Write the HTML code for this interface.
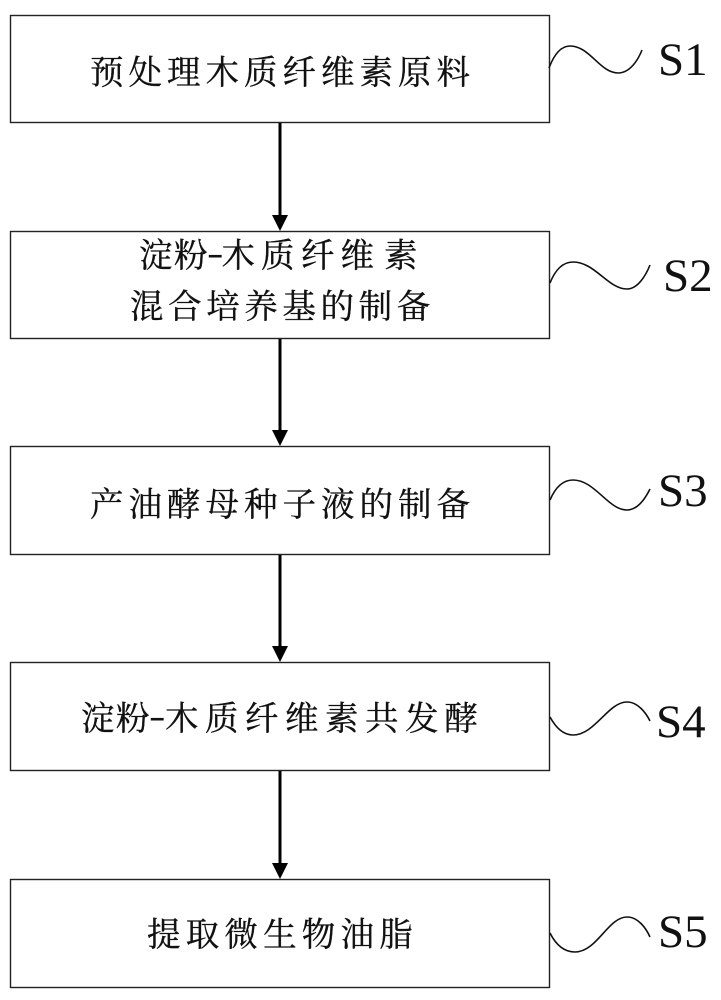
<!DOCTYPE html>
<html>
<head>
<meta charset="utf-8">
<style>
  html,body{margin:0;padding:0;background:#fff;}
  svg{display:block;}
  .cj{font-family:"Noto Serif CJK SC","Liberation Serif","Noto Sans CJK SC",serif;font-size:33.5px;fill:#111;stroke:#111;stroke-width:0.35px;}
  .sl{font-family:"Liberation Serif","DejaVu Serif","Times New Roman",serif;font-size:47px;fill:#111;}
  .dash{font-family:"Liberation Sans","DejaVu Sans",sans-serif;font-weight:bold;font-size:26px;fill:#111;}
</style>
</head>
<body>
<svg width="721" height="1000" viewBox="0 0 721 1000" xmlns="http://www.w3.org/2000/svg">
  <rect x="0" y="0" width="721" height="1000" fill="#fff"/>
  <g fill="none" stroke="#222" stroke-width="1.4">
    <rect x="10.5" y="15.5" width="539" height="107"/>
    <rect x="10.5" y="231.5" width="539" height="107"/>
    <rect x="10.5" y="446.5" width="539" height="108"/>
    <rect x="10.5" y="662.5" width="539" height="108"/>
    <rect x="10.5" y="879.5" width="539" height="108"/>
  </g>

  <!-- arrows -->
  <g stroke="#000" stroke-width="3">
    <line x1="280" y1="123" x2="280" y2="218"/>
    <line x1="280" y1="339" x2="280" y2="433"/>
    <line x1="280" y1="555" x2="280" y2="649"/>
    <line x1="280" y1="771" x2="280" y2="866"/>
  </g>
  <g fill="#000">
    <polygon points="272,215 288,215 280,231"/>
    <polygon points="272,430 288,430 280,446"/>
    <polygon points="272,646 288,646 280,662"/>
    <polygon points="272,863 288,863 280,879"/>
  </g>

  <!-- waves -->
  <g fill="none" stroke="#111" stroke-width="1.6">
    <path d="M549,68 C555,52 562,46 570,46 C590,46 600,73 618,73 C630,73 638,60 642,50"/>
    <path d="M550,283 C556,268 564,262 573,262 C595,262 608,289 627,289 C638,289 646,275 650,265"/>
    <path d="M550,500 C556,486 564,480 573,480 C595,480 608,510 627,510 C638,510 646,497 650,489"/>
    <path d="M550,717 C556,728 564,735 573,735 C595,735 608,702 627,702 C638,702 646,713 650,721"/>
    <path d="M550,933 C556,945 564,952 575,952 C597,952 608,917 627,917 C638,917 646,928 650,937"/>
  </g>

  <!-- step labels -->
  <text class="sl" x="658" y="75">S1</text>
  <text class="sl" x="663" y="291">S2</text>
  <text class="sl" x="658" y="506">S3</text>
  <text class="sl" x="656" y="737">S4</text>
  <text class="sl" x="658" y="947">S5</text>

  <!-- box texts -->
  <text class="cj" y="84" x="90 128.5 167 205.5 244 282.5 321 359.5 398 436.5">预处理木质纤维素原料</text>

  <text class="cj" y="267" x="139 174">淀粉</text>
  <text class="dash" x="208" y="263">–</text>
  <text class="cj" y="267" x="221.5 261 301 340.5 384">木质纤维素</text>
  <text class="cj" y="318" x="130 168.1 206.2 244.3 282.4 320.5 358.6 396.7">混合培养基的制备</text>

  <text class="cj" y="516" x="90 128.5 167 205.5 244 282.5 321 359.5 398 436.5">产油酵母种子液的制备</text>

  <text class="cj" y="730" x="81 116">淀粉</text>
  <text class="dash" x="150" y="726">–</text>
  <text class="cj" y="730" x="165 205 245 285 325 365 405 444.5">木质纤维素共发酵</text>

  <text class="cj" y="946" x="147 185.7 224.4 263.1 301.8 340.5 379.2">提取微生物油脂</text>
</svg>
</body>
</html>
